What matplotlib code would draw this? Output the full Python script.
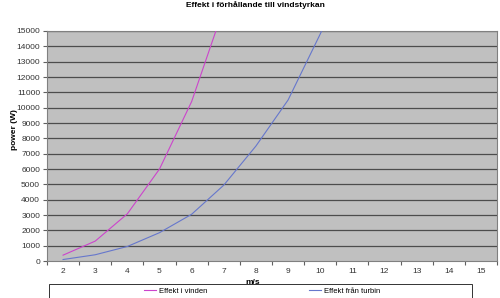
import matplotlib
matplotlib.use("Agg")
import matplotlib.pyplot as plt
from matplotlib.patches import Rectangle

plt.rcParams['font.family'] = ['Liberation Sans', 'DejaVu Sans']

windSpeed = [2, 3, 4, 5, 6, 7, 8, 9, 10, 11]
powerWind = [385, 1300, 3080, 6000, 10400, 16500, 24600, 35000, 48000, 64000]
powerTurbine = [100, 410, 950, 1850, 3050, 4950, 7500, 10500, 14800, 19500]
xCategories = list(range(2, 16))
yTicks = list(range(0, 16000, 1000))

fig = plt.figure(figsize=(5, 2.98), dpi=100)
ax = fig.add_axes([0.094, 0.124, 0.9, 0.772])
ax.set_facecolor("#c0c0c0")

for y in yTicks[1:]:
    ax.axhline(y, color="#4c4c4c", linewidth=0.9, zorder=1)

ax.plot(windSpeed, powerWind, color="#cc44cc", linewidth=0.8, label="Effekt i vinden", zorder=3)
ax.plot(windSpeed, powerTurbine, color="#6677cc", linewidth=0.8, label="Effekt från turbin", zorder=3)

ax.set_xlim(1.5, 15.5)
ax.set_ylim(0, 15000)

# category axis: ticks between categories, labels centered
ax.set_xticks([c - 0.5 for c in xCategories] + [15.5])
ax.set_xticklabels([])
ax.set_xticks(xCategories, minor=True)
ax.set_xticklabels([str(c) for c in xCategories], minor=True)
ax.tick_params(axis="x", which="major", length=3, color="#606060", direction="out")
ax.tick_params(axis="x", which="minor", length=0, pad=5, labelsize=6, labelcolor="#333333")

ax.set_yticks(yTicks)
ax.set_yticklabels([str(y) for y in yTicks])
ax.tick_params(axis="y", length=3, color="#606060", labelsize=6, labelcolor="#333333", pad=2)

for s in ax.spines.values():
    s.set_color("#808080")
    s.set_linewidth(0.8)

ax.set_xlabel("m/s", fontsize=6, fontweight="bold")
ax.xaxis.set_label_coords(0.458, -0.078)
ax.set_ylabel("power (W)", fontsize=6, fontweight="bold")
ax.yaxis.set_label_coords(-0.064, 0.57)

fig.text(0.511, 1 - 5 / 298, "Effekt i förhållande till vindstyrkan",
         ha="center", va="center", fontsize=6, fontweight="bold")

# legend box runs off the bottom edge like the original
fig.patches.append(Rectangle((0.098, -0.1), 0.846, 0.147, transform=fig.transFigure,
                             fill=False, edgecolor="#333333", linewidth=0.7))
fig.legend(loc="center", bbox_to_anchor=(0.524, 1 - 291 / 298), ncol=2, frameon=False,
           fontsize=5.5, handlelength=1.6, handletextpad=0.3, columnspacing=13.4)

fig.savefig("out.png", dpi=100)
